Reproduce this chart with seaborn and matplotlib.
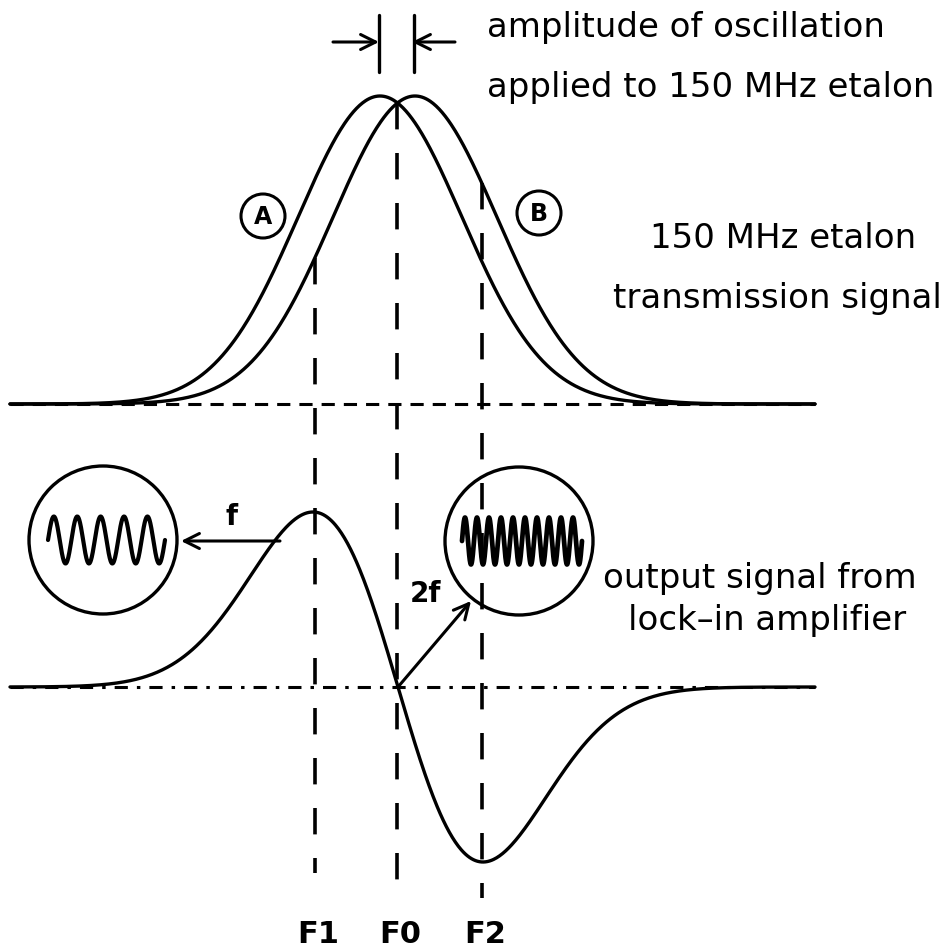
import numpy as np
import pandas as pd
import matplotlib
matplotlib.use("Agg")
import matplotlib.pyplot as plt
from matplotlib import font_manager
from matplotlib.patches import Circle
import seaborn as sns

sns.set_theme(style="white")
plt.rcParams["font.family"] = ["DejaVu Sans"]
plt.rcParams["text.color"] = "black"
plt.rcParams["lines.scale_dashes"] = False
plt.rcParams["lines.solid_capstyle"] = "round"


def pick_font(names):
    for name in names:
        try:
            font_manager.findfont(name, fallback_to_default=False)
            return name
        except Exception:
            continue
    return "DejaVu Sans"


narrow_font = pick_font(["Liberation Sans Narrow", "DejaVu Sans Condensed", "DejaVu Sans"])

# ---- drawing frame (units are pixels, y grows downwards) ----
x_start, x_end = 10, 815
top_base, bottom_base = 404, 687

# ---- etalon transmission peaks A and B ----
peak_names = ["A", "B"]
peak_centers = [380, 415]
peak_height = 308
peak_sigma = 82
peak_label_pos = [(263, 216), (539, 213)]

# ---- lock-in output signal (first derivative shape) ----
deriv_center = 398
deriv_sigma = 85
deriv_amp = 175

# ---- frequency markers ----
marker_names = ["F1", "F0", "F2"]
marker_x = [315, 397, 482]
marker_bottom = [873, 898, 898]

# ---- scope insets ----
scope_cycles = [5, 10]
scope_centers = [(103, 540), (519, 541)]
scope_radius = 74
scope_trace_x = [(48, 165), (462, 582)]
scope_trace_amp = 23.5
scope_trace_lw = [3.0, 3.4]

# ---- texts ----
right_texts = ["amplitude of oscillation", "applied to 150 MHz etalon",
               "150 MHz etalon", "transmission signal",
               "output signal from", "lock–in amplifier"]
right_text_x = [487, 487, 650, 613, 603, 628]
right_text_y = [37, 97, 248, 308, 588, 630]


def peak_curve(x, c):
    return top_base - peak_height * np.exp(-(x - c) ** 2 / (2 * peak_sigma ** 2))


def deriv_curve(x):
    u = (x - deriv_center) / deriv_sigma
    return bottom_base + deriv_amp * u * np.exp(0.5 - u ** 2 / 2)


fig = plt.figure(figsize=(9.5, 9.51), dpi=100)
ax = fig.add_axes([0, 0, 1, 1])
ax.set_axis_off()

lw = 2.4
xs = np.linspace(x_start, x_end, 800)

# transmission peaks
top_df = pd.concat([pd.DataFrame({"x": xs, "y": peak_curve(xs, c), "peak": n})
                    for n, c in zip(peak_names, peak_centers)])
sns.lineplot(data=top_df, x="x", y="y", hue="peak", palette=["black", "black"],
             legend=False, estimator=None, sort=False, lw=lw, ax=ax)

# lock-in output
bot_df = pd.DataFrame({"x": xs, "y": deriv_curve(xs)})
sns.lineplot(data=bot_df, x="x", y="y", color="black", estimator=None, sort=False,
             lw=lw, ax=ax)

# baselines
ax.plot([x_start, x_end], [top_base, top_base], color="black", lw=2.2,
        linestyle=(0, (9.5, 6.5)))
ax.plot([x_start, x_end], [bottom_base, bottom_base], color="black", lw=2.2,
        linestyle=(0, (9.5, 6.5, 2.5, 6.5)))

# frequency marker lines, starting on peak B (F0 on the crossing)
for name, mx, mb in zip(marker_names, marker_x, marker_bottom):
    y_top = peak_curve(mx, peak_centers[1])
    ax.plot([mx, mx], [y_top, mb], color="black", lw=2.6,
            linestyle=(0, (19, 17)))
    ax.text(mx + 3, 943, name, fontsize=22, fontweight="bold",
            family=[narrow_font, "DejaVu Sans"], ha="center", va="baseline")

# peak labels
for n, (cx, cy) in zip(peak_names, peak_label_pos):
    ax.add_patch(Circle((cx, cy), 22, fill=False, lw=2.2, color="black"))
    ax.text(cx, cy + 1, n, fontsize=17, fontweight="bold", ha="center", va="center")

# oscillation amplitude marks at the two peak centres
for c in peak_centers:
    ax.plot([c - 1, c - 1], [15, 72], color="black", lw=2.4)
arrow_kw = dict(arrowstyle="->,head_length=0.9,head_width=0.45", lw=2.2,
                color="black", shrinkA=0, shrinkB=0)
ax.annotate("", xy=(peak_centers[0] - 1, 42), xytext=(333, 42), arrowprops=arrow_kw)
ax.annotate("", xy=(peak_centers[1] - 3, 42), xytext=(455, 42), arrowprops=arrow_kw)

# scope insets with the detected waveforms
for (cx, cy), cyc, (x0, x1), tlw in zip(scope_centers, scope_cycles, scope_trace_x, scope_trace_lw):
    ax.add_patch(Circle((cx, cy), scope_radius, fill=False, lw=2.4, color="black"))
    tx = np.linspace(x0, x1, 600)
    wave = pd.DataFrame({"x": tx,
                         "y": cy - scope_trace_amp * np.sin(2 * np.pi * cyc * (tx - x0) / (x1 - x0))})
    sns.lineplot(data=wave, x="x", y="y", color="black", estimator=None, sort=False,
                 lw=tlw, ax=ax)

# f and 2f arrows
ax.annotate("", xy=(181, 541), xytext=(280, 541), arrowprops=arrow_kw)
ax.text(232, 525, "f", fontsize=20, fontweight="bold", ha="center", va="baseline")
ax.annotate("", xy=(471, 601), xytext=(deriv_center, bottom_base), arrowprops=arrow_kw)
ax.text(426, 602, "2f", fontsize=20, fontweight="bold", ha="center", va="baseline",
        family=[narrow_font, "DejaVu Sans"])

# descriptive text
for t, tx, ty in zip(right_texts, right_text_x, right_text_y):
    ax.text(tx, ty, t, fontsize=24.5, ha="left", va="baseline")

ax.set_xlim(0, 950)
ax.set_ylim(951, 0)
ax.set_xlabel("")
ax.set_ylabel("")

fig.savefig("out.png", dpi=100, facecolor="white")
